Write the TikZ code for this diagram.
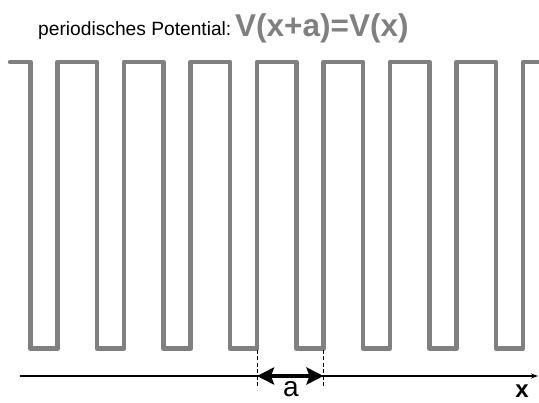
\documentclass[tikz,border=0pt]{standalone}
\usepackage{fontspec}
\setmainfont{Liberation Sans}
\usetikzlibrary{arrows.meta}
\definecolor{potgray}{RGB}{128,128,128}

\begin{document}
\begin{tikzpicture}[x=1pt, y=-1pt, every node/.style={inner sep=0pt}]
  % Stile
  \tikzstyle{wave}=[draw=potgray, line width=4.5pt, line join=round, line cap=round]
  \tikzstyle{axis}=[line width=1.2pt, -{Stealth[length=7pt,width=5pt]}]
  \tikzstyle{guide}=[dashed, dash pattern=on 4pt off 2.5pt, line width=0.9pt]
  \tikzstyle{period}=[line width=3.5pt, {Stealth[length=17pt,width=17pt,inset=3pt]}-{Stealth[length=17pt,width=17pt,inset=3pt]}]

  \useasboundingbox (0,0) rectangle (539,403);

  % Titel
  \node (title) [anchor=base west, font=\fontsize{19.2}{21}\selectfont] at (38,36) {periodisches Potential:};
  \node (formula) [anchor=base west, text=potgray, font=\bfseries\fontsize{31.5}{33}\selectfont] at (235,36.5) {V(x+a)=V(x)};

  % Potential
  \draw[wave] (10,62) \foreach \k in {0,...,7}{ -- ({30.5+66.5*\k},62) -- ++(0,286.5) -- ++(27,0) -- ++(0,-286.5)} -- (545,62);

  % x-Achse
  \coordinate (xstart) at (20,376);
  \coordinate (xend) at (538,376);
  \draw[axis] (xstart) -- (xend);

  % Periode a
  \coordinate (aleft) at (257,350);
  \coordinate (aright) at (323.5,350);
  \draw[guide] (aleft) -- ++(0,37);
  \draw[guide] (aright) -- ++(0,37);
  \draw[period] (aleft |- xstart) -- (aright |- xstart);

  % Beschriftung
  \node (alabel) [anchor=base, font=\fontsize{28}{30}\selectfont] at (291,397) {a};
  \node (xlabel) [anchor=base, font=\bfseries\fontsize{24}{26}\selectfont] at (522,397.5) {x};
\end{tikzpicture}
\end{document}
